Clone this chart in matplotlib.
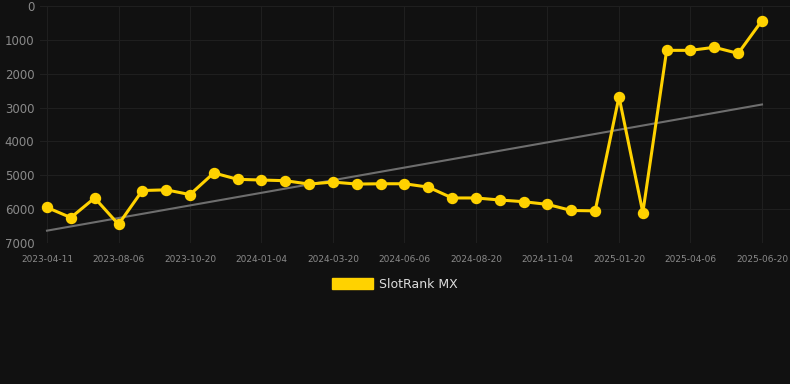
import matplotlib
matplotlib.use("Agg")
import matplotlib.pyplot as plt
import matplotlib.patches as mpatches
import numpy as np

# rank values, one per sample (lower is better, axis inverted)
rank = [5950, 6250, 5670, 6450, 5450, 5430, 5570, 4930, 5120, 5140, 5160,
        5260, 5200, 5260, 5250, 5250, 5350, 5670, 5670, 5730, 5780, 5860,
        6040, 6050, 2680, 6100, 1310, 1310, 1220, 1400, 430]
tick_labels = ["2023-04-11", "2023-08-06", "2023-10-20", "2024-01-04",
               "2024-03-20", "2024-06-06", "2024-08-20", "2024-11-04",
               "2025-01-20", "2025-04-06", "2025-06-20"]
y_ticks = [0, 1000, 2000, 3000, 4000, 5000, 6000, 7000]

bg = "#111111"
gold = "#FFD200"

x = np.arange(len(rank))
slope, icpt = np.polyfit(x, rank, 1)
trend = slope * x + icpt

fig = plt.figure(figsize=(7.9, 3.84), dpi=100, facecolor=bg)
ax = fig.add_axes([40/790, 1-243/384, 750/790, 237/384], facecolor=bg)

ax.plot(x, trend, color="#6e6e6e", lw=1.5, zorder=2)
ax.plot(x, rank, color=gold, lw=2.2, marker="o", ms=7.2, zorder=3)

ax.set_ylim(7000, 0)
ax.set_xlim(-7/23.83, 30 + 28/23.83)
ax.set_yticks(y_ticks)
ax.set_yticklabels([str(v) for v in y_ticks])
ax.set_xticks(x[::3])
ax.set_xticklabels(tick_labels)

ax.grid(True, color="#1f1f1f", lw=0.8)
for s in ax.spines.values():
    s.set_visible(False)
ax.tick_params(axis="both", length=0, colors="#8a8a8a")
ax.tick_params(axis="y", labelsize=8.5, pad=4)
ax.tick_params(axis="x", labelsize=6.5, pad=9)

leg = fig.legend(handles=[mpatches.Patch(color=gold, label="SlotRank MX")],
                 loc="center", bbox_to_anchor=(0.5, 1-284/384), frameon=False,
                 handlelength=3.3, handleheight=1.0, handletextpad=0.5,
                 fontsize=9, labelcolor="#dddddd")

fig.savefig("out.png", dpi=100, facecolor=bg)
